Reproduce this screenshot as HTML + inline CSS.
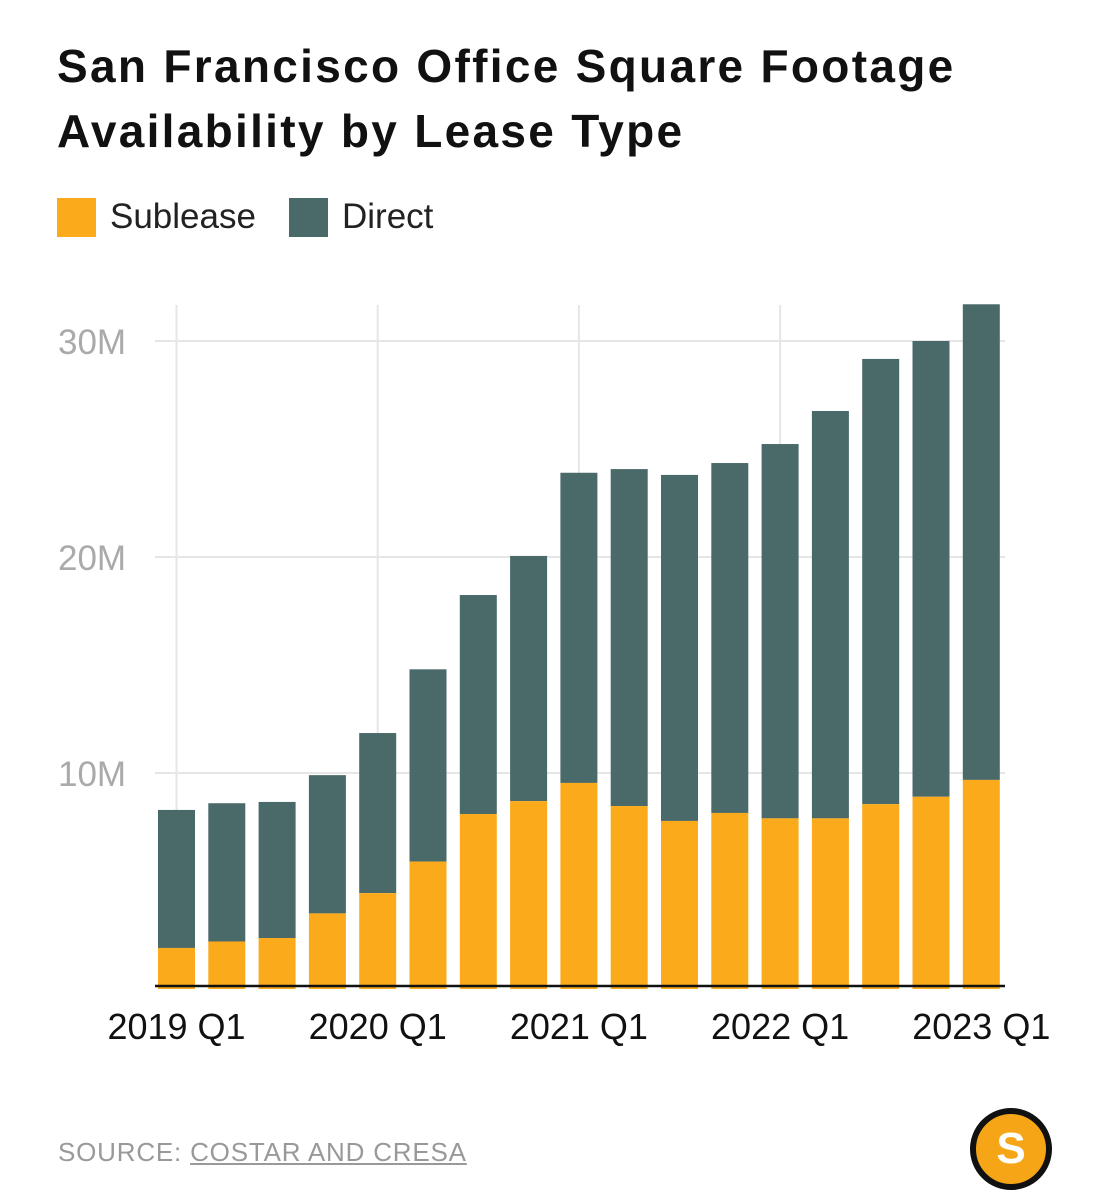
<!DOCTYPE html>
<html><head><meta charset="utf-8"><style>
body{margin:0;width:1110px;height:1200px;background:#fff;font-family:"Liberation Sans",sans-serif;overflow:hidden;position:relative}
#title{position:absolute;left:57px;top:34px;font-size:46px;font-weight:bold;line-height:65px;color:#111;letter-spacing:2.3px;white-space:nowrap}
.leg{position:absolute;top:197px;display:flex;align-items:center;font-size:35px;color:#222}
.sw{width:39px;height:39px;margin-right:14px}
#src{position:absolute;left:58px;top:1137px;font-size:26px;color:#999;letter-spacing:0.8px}
#src u{text-decoration:underline}
#logo{position:absolute;left:970px;top:1108px;width:70px;height:70px;border-radius:50%;background:#f5a516;border:6px solid #111;color:#fff;font-size:44px;font-weight:bold;text-align:center;line-height:70px}
</style></head><body>
<div id="title">San Francisco Office Square Footage<br>Availability by Lease Type</div>
<div class="leg" style="left:57px"><div class="sw" style="background:#fbaa1b"></div>Sublease</div>
<div class="leg" style="left:289px"><div class="sw" style="background:#4a6969"></div>Direct</div>
<svg id="chart" width="1110" height="1200" style="position:absolute;left:0;top:0"></svg>
<div id="src">SOURCE: <u>COSTAR AND CRESA</u></div>
<div id="logo">S</div>
<script>
const categories=["2019 Q1","2019 Q2","2019 Q3","2019 Q4","2020 Q1","2020 Q2","2020 Q3","2020 Q4","2021 Q1","2021 Q2","2021 Q3","2021 Q4","2022 Q1","2022 Q2","2022 Q3","2022 Q4","2023 Q1"];
const totals=[8.29,8.6,8.66,9.9,11.85,14.8,18.24,20.05,23.9,24.07,23.8,24.35,25.23,26.76,29.17,30.0,31.7];
const sublease=[1.9,2.2,2.36,3.5,4.44,5.9,8.1,8.7,9.54,8.47,7.78,8.15,7.9,7.9,8.56,8.9,9.68];
const yTicks=[10,20,30];
const yTickLabels=["10M","20M","30M"];
const xTickLabels=["2019 Q1","2020 Q1","2021 Q1","2022 Q1","2023 Q1"];
const NS="http://www.w3.org/2000/svg";
const svg=document.getElementById('chart');
const y=v=>989-v*21.6;
const x=i=>176.5+i*50.3;
const bw=37;
function el(t,a){const e=document.createElementNS(NS,t);for(const k in a)e.setAttribute(k,a[k]);svg.appendChild(e);return e;}
yTicks.forEach((t,i)=>{
 const g=el('line',{x1:155,x2:1005,y1:y(t),y2:y(t),stroke:'#e6e6e6','stroke-width':2});
 
 
 const l=el('text',{x:58,y:y(t)+13,'font-size':35,fill:'#aaa','font-family':'Liberation Sans'});
 l.textContent=yTickLabels[i];
 
 
});
xTickLabels.forEach(lbl=>{
 const i=categories.indexOf(lbl);
 const g=el('line',{x1:x(i),x2:x(i),y1:305,y2:985,stroke:'#e6e6e6','stroke-width':2});
 
 
 const t=el('text',{x:x(i),y:1039,'font-size':36,fill:'#111','text-anchor':'middle','font-family':'Liberation Sans'});
 t.textContent=lbl;
 
 
});
categories.forEach((c,i)=>{
 const d=el('rect',{x:x(i)-bw/2,y:y(totals[i]),width:bw,height:y(sublease[i])-y(totals[i]),fill:'#4a6969'});
 
 
 const s=el('rect',{x:x(i)-bw/2,y:y(sublease[i]),width:bw,height:y(0)-y(sublease[i]),fill:'#fbaa1b'});
 
 
});
const b=el('line',{x1:155,x2:1005,y1:986,y2:986,stroke:'#111','stroke-width':2.5});


</script>
</body></html>
